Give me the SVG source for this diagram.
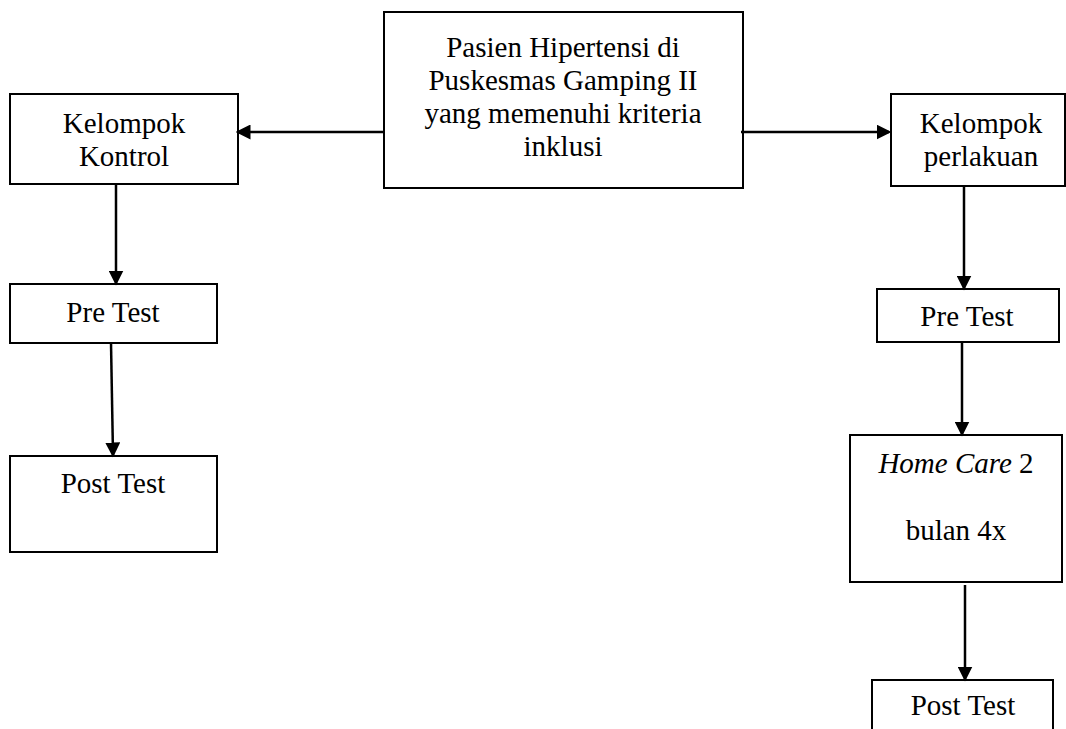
<svg xmlns="http://www.w3.org/2000/svg" width="1066" height="729" viewBox="0 0 1066 729">
<style>
.box{fill:#fff;stroke:#000;stroke-width:2}
.t{font-family:"Liberation Serif","Times New Roman",serif;font-size:29px;fill:#000;text-anchor:middle}
.c{fill:none;stroke:#000;stroke-width:2.5;marker-end:url(#ah)}
</style>
<defs>
<marker id="ah" markerWidth="6" markerHeight="6" refX="5" refY="3" orient="auto" markerUnits="strokeWidth">
<path d="M0,0 L6,3 L0,6 Z" fill="#000"/>
</marker>
</defs>
<rect width="1066" height="729" fill="#fff"/>
<g id="n-pasien">
<rect class="box" x="384" y="12" width="359" height="176"/>
<text class="t" x="563" y="57">Pasien Hipertensi di</text>
<text class="t" x="563" y="90">Puskesmas Gamping II</text>
<text class="t" x="563" y="123">yang memenuhi kriteria</text>
<text class="t" x="563" y="156">inklusi</text>
</g>
<g id="n-kontrol">
<rect class="box" x="10" y="94" width="228" height="90"/>
<text class="t" x="124" y="133">Kelompok</text>
<text class="t" x="124" y="166">Kontrol</text>
</g>
<g id="n-perlakuan">
<rect class="box" x="891" y="94" width="174" height="92"/>
<text class="t" x="981" y="133">Kelompok</text>
<text class="t" x="981" y="166">perlakuan</text>
</g>
<g id="n-pre-left">
<rect class="box" x="10" y="284" width="207" height="59"/>
<text class="t" x="113" y="322">Pre Test</text>
</g>
<g id="n-post-left">
<rect class="box" x="10" y="456" width="207" height="96"/>
<text class="t" x="113" y="493">Post Test</text>
</g>
<g id="n-pre-right">
<rect class="box" x="877" y="289" width="182" height="53"/>
<text class="t" x="967" y="326">Pre Test</text>
</g>
<g id="n-homecare">
<rect class="box" x="850" y="435" width="212" height="147"/>
<text class="t" x="956" y="473"><tspan font-style="italic">Home Care</tspan> 2</text>
<text class="t" x="956" y="540">bulan 4x</text>
</g>
<g id="n-post-right">
<rect class="box" x="872" y="680" width="181" height="60"/>
<text class="t" x="963" y="715">Post Test</text>
</g>
<g id="connectors">
<line class="c" x1="384" y1="132" x2="238" y2="132"/>
<line class="c" x1="741" y1="132" x2="889" y2="132"/>
<line class="c" x1="116" y1="185" x2="116" y2="283"/>
<line class="c" x1="111" y1="343" x2="113" y2="455"/>
<line class="c" x1="964" y1="187" x2="964" y2="288"/>
<line class="c" x1="962" y1="342" x2="962" y2="434"/>
<line class="c" x1="965" y1="585" x2="965" y2="679"/>
</g>
</svg>
